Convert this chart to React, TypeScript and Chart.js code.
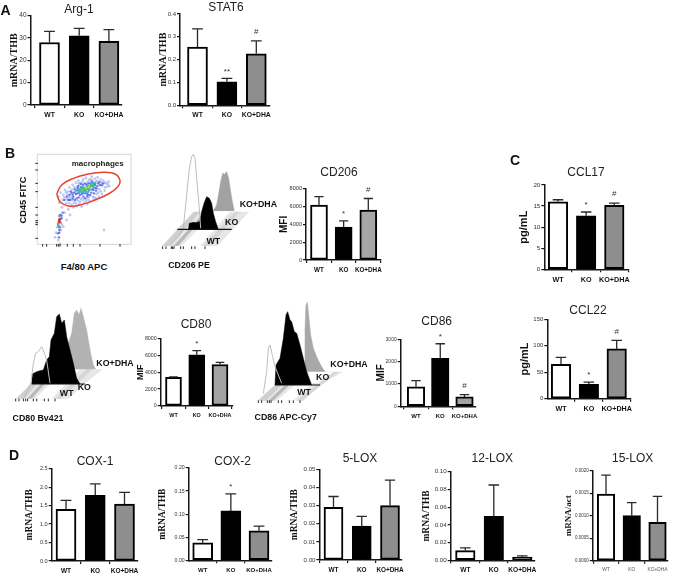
import React, { useEffect, useRef } from "react";
import { Chart, registerables } from "chart.js";

Chart.register(...registerables);

// ---------- data ----------
const groups = ["WT", "KO", "KO+DHA"];

const arg1Values = [28, 31, 28.5];
const arg1Errors = [33, 34.3, 33.8];
const arg1Marks = ["", "", ""];
const arg1Ticks = ["0", "10", "20", "30", "40"];

const stat6Values = [0.255, 0.103, 0.226];
const stat6Errors = [0.335, 0.118, 0.282];
const stat6Marks = ["", "**", "#"];
const stat6Ticks = ["0.0", "0.1", "0.2", "0.3", "0.4"];

const cd206Values = [6150, 3700, 5600];
const cd206Errors = [7100, 4400, 6900];
const cd206Marks = ["", "*", "#"];
const cd206Ticks = ["0", "2000", "4000", "6000", "8000"];

const cd80Values = [3400, 6050, 4900];
const cd80Errors = [3450, 6550, 5150];
const cd80Marks = ["", "*", ""];
const cd80Ticks = ["0", "2000", "4000", "6000", "8000"];

const cd86Values = [870, 2150, 420];
const cd86Errors = [1150, 2800, 520];
const cd86Marks = ["", "*", "#"];
const cd86Ticks = ["0", "1000", "2000", "3000"];

const ccl17Values = [16, 12.7, 15.2];
const ccl17Errors = [16.5, 13.6, 15.7];
const ccl17Marks = ["", "*", "#"];
const ccl17Ticks = ["0", "5", "10", "15", "20"];

const ccl22Values = [65, 27, 94];
const ccl22Errors = [78, 31.5, 110];
const ccl22Marks = ["", "*", "#"];
const ccl22Ticks = ["0", "50", "100", "150"];

const cox1Values = [1.4, 1.78, 1.54];
const cox1Errors = [1.64, 2.09, 1.86];
const cox1Marks = ["", "", ""];
const cox1Ticks = ["0.0", "0.5", "1.0", "1.5", "2.0", "2.5"];

const cox2Values = [0.038, 0.107, 0.064];
const cox2Errors = [0.045, 0.144, 0.074];
const cox2Marks = ["", "*", ""];
const cox2Ticks = ["0.00", "0.05", "0.10", "0.15", "0.20"];

const lox5Values = [0.029, 0.0187, 0.03];
const lox5Errors = [0.035, 0.024, 0.044];
const lox5Marks = ["", "", ""];
const lox5Ticks = ["0.00", "0.01", "0.02", "0.03", "0.04", "0.05"];

const lox12Values = [0.011, 0.0495, 0.0035];
const lox12Errors = [0.014, 0.085, 0.005];
const lox12Marks = ["", "", ""];
const lox12Ticks = ["0.00", "0.02", "0.04", "0.06", "0.08", "0.10"];

const lox15Values = [0.00148, 0.001, 0.00085];
const lox15Errors = [0.0019, 0.00129, 0.00143];
const lox15Marks = ["", "", ""];
const lox15Ticks = ["0.0000", "0.0005", "0.0010", "0.0015", "0.0020"];

// flow cytometry events
const flowSparse = [[85,140],[92,128],[98,150],[105,120],[108,160],[112,135],[118,112],[120,150],[125,165],[128,105],[132,158],[138,98],[140,168],[145,92],[148,162],[152,100],[155,170],[160,88],[163,158],[168,84],[172,162],[178,90],[182,155],[185,80],[190,150],[195,86],[198,145],[203,82],[207,140],[212,88],[216,132],[220,92],[224,122],[228,100],[232,110],[236,95],[115,178],[122,142],[135,125],[100,135],[110,148],[130,172],[150,155],[175,150],[205,128],[225,112],[88,158],[96,172],[104,188],[95,200],[82,232],[78,248],[92,240],[96,225],[75,262],[85,270],[90,282],[100,230],[110,210],[120,195],[222,240],[113,125],[126,118],[142,110],[157,95],[173,95],[188,92],[201,93],[214,97],[103,142],[117,160],[137,160],[158,150],[170,143],[188,140],[200,132],[108,128],[116,142],[123,132],[133,112],[127,150],[143,152],[147,100],[153,146],[162,104],[168,152],[176,142],[183,88],[193,142],[198,96],[208,118],[212,124],[218,104],[226,98],[233,102],[238,108]];
const flowBlue = [[110,140],[118,135],[125,128],[130,140],[135,118],[140,145],[145,108],[150,135],[155,112],[160,140],[165,100],[170,130],[175,100],[180,135],[185,95],[190,120],[195,105],[200,115],[205,100],[210,105],[120,150],[135,150],[148,125],[165,145],[178,118],[192,130],[115,150],[103,150],[90,195],[95,205],[98,188],[85,225],[88,240],[92,218],[84,250],[87,262],[128,134],[138,132],[152,102],[172,138],[184,128],[198,122],[215,106],[122,124],[132,128],[142,130],[143,114],[156,132],[158,104],[163,130],[169,104],[174,134],[181,100],[186,118],[190,100],[196,114],[202,108],[208,96],[219,100],[128,146],[146,142],[88,248],[90,232],[94,196]];
const flowTeal = [[145,120],[150,118],[155,125],[160,112],[165,118],[170,112],[175,125],[180,110],[185,108],[190,112],[195,100],[140,122],[168,125],[158,128],[92,205],[86,230],[88,198],[148,128],[153,112],[162,122],[173,106],[178,120],[188,100],[192,106],[84,222]];
const flowGreen = [[155,118],[163,115],[172,116],[178,112],[186,104],[150,122],[182,106],[167,120]];
const flowYellow = [[168,114],[176,110],[88,222],[90,204]];
const flowRed = [[88,212],[89,208],[87,216]];
const gateOutline = [[80,132],[95,105],[130,85],[175,72],[220,67],[255,72],[270,92],[262,112],[235,132],[195,150],[150,165],[115,168],[90,155],[80,132]];
const flowFrame = [[22,13],[303,13],[303,283],[22,283],[22,13]];
const flowTicksLeft = [[20,40],[20,60],[20,100],[20,125],[20,172],[20,195],[20,212],[20,218],[20,224],[20,265]];
const flowTicksBottom = [[38,286],[50,286],[80,286],[85,286],[90,286],[112,286],[130,286],[150,286],[210,286],[270,286]];

// histogram traces (channel, count position) for each overlay
const cd206Dha = [[190,198],[200,180],[207,140],[212,110],[218,85],[224,88],[230,80],[236,100],[242,140],[248,175],[253,198]];
const cd206Ko = [[115,253],[118,235],[130,232],[140,233],[150,228],[155,200],[162,175],[170,155],[178,160],[185,175],[190,205],[197,230],[205,253]];
const cd206Wt = [[65,295],[85,275],[100,250],[110,150],[118,70],[125,35],[130,28],[135,40],[140,100],[147,180],[152,250]];
const cd206Floor = [[35,303],[130,200],[298,200],[205,300],[195,303],[35,303]];
const cd206Bands = [
  [[38,303],[62,303],[150,200],[132,200],[38,303]],
  [[70,303],[85,303],[170,205],[160,205],[70,303]],
  [[95,303],[150,303],[240,200],[195,200],[95,303]],
  [[160,303],[178,303],[270,200],[255,200],[160,303]],
];
const cd206Base = [[82,253],[245,253]];
const cd206Ticks2 = [[38,308],[48,308],[64,308],[68,308],[72,308],[92,308],[100,308],[125,308],[135,308],[165,308]];

const cd80Dha = [[190,208],[190,130],[200,100],[208,40],[215,30],[222,45],[228,25],[235,50],[245,90],[250,120],[258,165],[265,195],[272,208]];
const cd80Ko = [[80,252],[82,222],[95,215],[105,212],[115,210],[125,180],[133,170],[138,120],[148,100],[155,50],[163,42],[170,70],[178,60],[185,110],[195,150],[205,190],[215,235],[225,252]];
const cd80Wt = [[60,290],[78,250],[85,190],[92,160],[100,155],[110,140],[115,150],[125,180],[135,250]];
const cd80Floor = [[30,296],[80,252],[120,208],[293,208],[238,252],[190,296],[30,296]];
const cd80Bands = [
  [[36,296],[58,296],[135,208],[115,208],[36,296]],
  [[66,296],[80,296],[155,212],[143,212],[66,296]],
  [[90,296],[140,296],[225,208],[180,208],[90,296]],
  [[150,296],[168,296],[262,208],[245,208],[150,296]],
];
const cd80Base = [[80,252],[240,252]];
const cd80Ticks2 = [[32,300],[42,300],[55,300],[62,300],[68,300],[85,300],[95,300],[118,300],[130,300],[150,300]];

const cd86Dha = [[165,230],[165,100],[168,30],[172,22],[176,60],[182,120],[190,160],[200,185],[212,210],[225,230]];
const cd86Ko = [[75,270],[78,210],[90,190],[100,130],[108,60],[113,50],[120,75],[125,80],[133,110],[140,115],[150,150],[160,190],[170,230],[185,270]];
const cd86Wt = [[40,295],[50,230],[55,160],[60,150],[68,185],[75,215],[85,240],[95,265]];
const cd86Floor = [[20,317],[75,270],[120,230],[280,230],[210,270],[160,317],[20,317]];
const cd86Bands = [
  [[25,317],[48,317],[135,230],[115,230],[25,317]],
  [[55,317],[70,317],[155,234],[143,234],[55,317]],
  [[80,317],[130,317],[225,230],[180,230],[80,317]],
  [[140,317],[155,317],[265,230],[250,230],[140,317]],
];
const cd86Base = [[75,270],[210,270]];
const cd86Ticks2 = [[25,320],[35,320],[52,320],[58,320],[63,320],[85,320],[95,320],[118,320],[130,320],[150,320]];
const cd86Clear = [[185,232],[250,232],[225,248],[205,265],[185,262],[176,248],[185,232]];

// ---------- styling ----------
const SANS = "'Liberation Sans', Arial, sans-serif";
const SERIF = "'Liberation Serif', serif";
const INK = "#161616";
const WHITE = "#ffffff";
const BLACK = "#000000";

type BarPanel = {
  title: string; titleX: number; titleY: number;
  yTitle: string; yTitleX: number; yTitleFamily: string; yTitleSize: number;
  left: number; right: number; top: number; bottom: number;
  centers: number[]; barW: number; gray: string;
  values: number[]; errors: number[]; marks: string[]; ticks: string[];
  tickSize: number; xSize: number; xBold?: boolean;
};

const barPanels: BarPanel[] = [
  { title: "Arg-1", titleX: 79, titleY: 9, yTitle: "mRNA/THB", yTitleX: 14, yTitleFamily: SERIF, yTitleSize: 10, left: 30.5, right: 122, top: 15.7, bottom: 105, centers: [49.5, 79.3, 108.9], barW: 20, gray: "#8e8e8e", values: arg1Values, errors: arg1Errors, marks: arg1Marks, ticks: arg1Ticks, tickSize: 6.5, xSize: 6.8 },
  { title: "STAT6", titleX: 226, titleY: 7, yTitle: "mRNA/THB", yTitleX: 163, yTitleFamily: SERIF, yTitleSize: 10, left: 180, right: 270, top: 14, bottom: 105.3, centers: [197.5, 227, 256.3], barW: 20, gray: "#8e8e8e", values: stat6Values, errors: stat6Errors, marks: stat6Marks, ticks: stat6Ticks, tickSize: 6, xSize: 6.8 },
  { title: "CD206", titleX: 339, titleY: 172, yTitle: "MFI", yTitleX: 284, yTitleFamily: SANS, yTitleSize: 10, left: 306, right: 380.7, top: 188.7, bottom: 260, centers: [319, 343.7, 368.3], barW: 17, gray: "#a6a6a6", values: cd206Values, errors: cd206Errors, marks: cd206Marks, ticks: cd206Ticks, tickSize: 5.6, xSize: 6.3 },
  { title: "CD80", titleX: 196, titleY: 324, yTitle: "MIF", yTitleX: 140.7, yTitleFamily: SANS, yTitleSize: 9, left: 160.7, right: 233, top: 338.3, bottom: 406, centers: [173.5, 196.7, 220], barW: 16, gray: "#a3a3a3", values: cd80Values, errors: cd80Errors, marks: cd80Marks, ticks: cd80Ticks, tickSize: 5.3, xSize: 5.4 },
  { title: "CD86", titleX: 436.7, titleY: 320.7, yTitle: "MIF", yTitleX: 380.7, yTitleFamily: SANS, yTitleSize: 10, left: 400.7, right: 476, top: 339.3, bottom: 406.3, centers: [416, 440, 464.5], barW: 17.5, gray: "#a3a3a3", values: cd86Values, errors: cd86Errors, marks: cd86Marks, ticks: cd86Ticks, tickSize: 5, xSize: 6 },
  { title: "CCL17", titleX: 586, titleY: 172, yTitle: "pg/mL", yTitleX: 524, yTitleFamily: SANS, yTitleSize: 11, left: 544.3, right: 629, top: 185, bottom: 269.3, centers: [558, 586.3, 614.3], barW: 19.5, gray: "#8e8e8e", values: ccl17Values, errors: ccl17Errors, marks: ccl17Marks, ticks: ccl17Ticks, tickSize: 6.2, xSize: 7.2 },
  { title: "CCL22", titleX: 588, titleY: 310, yTitle: "pg/mL", yTitleX: 525, yTitleFamily: SANS, yTitleSize: 11, left: 547.3, right: 631, top: 319.3, bottom: 398.7, centers: [561, 589, 616.7], barW: 19.5, gray: "#8e8e8e", values: ccl22Values, errors: ccl22Errors, marks: ccl22Marks, ticks: ccl22Ticks, tickSize: 6, xSize: 7.2 },
  { title: "COX-1", titleX: 95, titleY: 460.7, yTitle: "mRNA/THB", yTitleX: 30, yTitleFamily: SERIF, yTitleSize: 9.5, left: 51.7, right: 137.7, top: 468.7, bottom: 561, centers: [66, 95.2, 124.5], barW: 20, gray: "#8e8e8e", values: cox1Values, errors: cox1Errors, marks: cox1Marks, ticks: cox1Ticks, tickSize: 5.6, xSize: 6.5 },
  { title: "COX-2", titleX: 232.7, titleY: 460.7, yTitle: "mRNA/THB", yTitleX: 163, yTitleFamily: SERIF, yTitleSize: 9.5, left: 188.7, right: 271.7, top: 468, bottom: 560.3, centers: [202.7, 230.7, 259], barW: 20, gray: "#8e8e8e", values: cox2Values, errors: cox2Errors, marks: cox2Marks, ticks: cox2Ticks, tickSize: 5.2, xSize: 6 },
  { title: "5-LOX", titleX: 360, titleY: 458, yTitle: "mRNA/THB", yTitleX: 294.7, yTitleFamily: SERIF, yTitleSize: 9.5, left: 319.3, right: 401.7, top: 469.3, bottom: 560, centers: [333.5, 361.8, 390], barW: 19, gray: "#8e8e8e", values: lox5Values, errors: lox5Errors, marks: lox5Marks, ticks: lox5Ticks, tickSize: 6, xSize: 6.4 },
  { title: "12-LOX", titleX: 492.3, titleY: 458, yTitle: "mRNA/THB", yTitleX: 426.7, yTitleFamily: SERIF, yTitleSize: 9.5, left: 450.7, right: 535, top: 471.7, bottom: 560.3, centers: [465.3, 494, 522.3], barW: 19.5, gray: "#5a5a5a", values: lox12Values, errors: lox12Errors, marks: lox12Marks, ticks: lox12Ticks, tickSize: 6.2, xSize: 6.6 },
  { title: "15-LOX", titleX: 632.7, titleY: 458, yTitle: "mRNA/act", yTitleX: 568.3, yTitleFamily: SERIF, yTitleSize: 9, left: 592.7, right: 668, top: 470.7, bottom: 560.7, centers: [606, 631.8, 657.5], barW: 17.5, gray: "#8e8e8e", values: lox15Values, errors: lox15Errors, marks: lox15Marks, ticks: lox15Ticks, tickSize: 4.5, xSize: 4.8, xBold: false },
];

function errorPlugin(errors: number[], marks: string[], capHalf: number, titleX: number) {
  return {
    id: "errorMarks",
    afterLayout(chart: any) {
      const b = chart.titleBlock;
      if (!b) return;
      const dx = titleX - chart.canvas.offsetLeft - (b.left + b.right) / 2;
      b.left += dx;
      b.right += dx;
    },
    afterDatasetsDraw(chart: any) {
      const { ctx, scales } = chart;
      const values = chart.data.datasets[0].data;
      ctx.save();
      ctx.strokeStyle = "#2a2a2a";
      ctx.lineWidth = 1.3;
      errors.forEach((err, i) => {
        const x = scales.x.getPixelForValue(i);
        const y0 = scales.y.getPixelForValue(values[i].y);
        const y1 = scales.y.getPixelForValue(err);
        ctx.beginPath();
        ctx.moveTo(x, y0);
        ctx.lineTo(x, y1);
        ctx.moveTo(x - capHalf, y1);
        ctx.lineTo(x + capHalf, y1);
        ctx.stroke();
        if (marks[i]) {
          ctx.fillStyle = "#333";
          ctx.font = `8px ${SANS}`;
          ctx.textAlign = "center";
          ctx.textBaseline = "middle";
          ctx.fillText(marks[i], x, y1 - (marks[i] === "#" ? 9 : 7));
        }
      });
      ctx.restore();
    },
  };
}

function buildBarChart(canvas: HTMLCanvasElement, p: BarPanel, geo: any) {
  const pitch = (p.centers[2] - p.centers[0]) / 2;
  const xMin = (p.left - p.centers[0]) / pitch;
  const xMax = (p.right - p.centers[0]) / pitch;
  const tickValues = p.ticks.map(Number);
  return new Chart(canvas, {
    type: "bar",
    data: {
      datasets: [{
        data: p.values.map((v, i) => ({ x: i, y: v })),
        backgroundColor: [WHITE, BLACK, p.gray],
        borderColor: BLACK,
        borderWidth: 2,
        borderSkipped: false,
        barThickness: p.barW,
      }],
    },
    options: {
      responsive: false,
      animation: false,
      events: [],
      layout: { autoPadding: false, padding: { right: geo.padRight } },
      plugins: {
        legend: { display: false },
        tooltip: { enabled: false },
        title: {
          display: true,
          text: p.title,
          color: "#222",
          font: { family: SANS, size: 12, weight: "normal", lineHeight: 1.2 },
          padding: { top: 0, bottom: geo.titlePad },
        },
      },
      scales: {
        x: {
          type: "linear",
          offset: false,
          min: xMin,
          max: xMax,
          afterBuildTicks: (s: any) => { s.ticks = groups.map((_, i) => ({ value: i })); },
          afterFit: (s: any) => { s.height = geo.xH; },
          border: { display: true, color: INK, width: 1.5 },
          grid: { display: true, drawOnChartArea: false, drawTicks: true, tickLength: 3, color: INK, lineWidth: 1.2 },
          ticks: {
            autoSkip: false,
            maxRotation: 0,
            padding: 3,
            color: p.xBold === false ? "#555" : "#111",
            font: { family: SANS, size: p.xSize, weight: p.xBold === false ? "normal" : "bold" },
            callback: (_v: any, i: number) => groups[i],
          },
        },
        y: {
          min: 0,
          max: tickValues[tickValues.length - 1],
          afterBuildTicks: (s: any) => { s.ticks = tickValues.map((value) => ({ value })); },
          afterFit: (s: any) => { s.width = geo.yW; },
          border: { display: true, color: INK, width: 1.5 },
          grid: { display: true, drawOnChartArea: false, drawTicks: true, tickLength: 3, color: INK, lineWidth: 1.2 },
          ticks: {
            padding: 1,
            color: "#333",
            font: { family: SANS, size: p.tickSize },
            callback: (_v: any, i: number) => p.ticks[i],
          },
          title: {
            display: true,
            text: p.yTitle,
            color: "#111",
            padding: 0,
            font: { family: p.yTitleFamily, size: p.yTitleSize, weight: "bold", lineHeight: 1.2 },
          },
        },
      },
    },
    plugins: [errorPlugin(p.errors, p.marks, p.barW * 0.27, p.titleX)],
  } as any);
}

function geometry(p: BarPanel) {
  const canvasLeft = Math.round(p.yTitleX - p.yTitleSize * 0.6);
  const canvasTop = Math.round(p.titleY - 7.2);
  const right = Math.round(Math.max(p.right + 14, p.titleX + 40));
  const xH = 20;
  const height = Math.ceil(p.bottom + xH - canvasTop);
  return {
    canvasLeft,
    canvasTop,
    width: right - canvasLeft,
    height,
    yW: p.left - canvasLeft,
    xH: height + canvasTop - p.bottom,
    padRight: right - p.right,
    titlePad: p.top - canvasTop - 14.4,
  };
}

// ---------- overlays: flow plot and offset histograms ----------
type Label = { text: string; x: number; y: number; size: number; bold?: boolean; color?: string };
type Overlay = { left: number; top: number; width: number; height: number; shapes: any[]; layers: any[]; labels: Label[] };

const poly = (data: number[][], color: string) => ({ data, color });
const trace = (data: number[][], color: string) => ({ kind: "trace", data, color });
const outline = (data: number[][], color: string, w = 1, tension = 0) => ({ kind: "line", data, color, w, tension });
const dots = (data: number[][], color: string, r: number) => ({ kind: "dots", data, color, r });
const marks = (data: number[][], rotation: number, r = 2) => ({ kind: "marks", data, rotation, r });

function floorShapes(floor: number[][], bands: number[][][], clear?: number[][]) {
  return [
    poly(floor, "#e7e7e7"),
    poly(bands[0], "#cfcfcf"),
    poly(bands[1], "#b9b9b9"),
    poly(bands[2], "#ffffff"),
    poly(bands[3], "#d6d6d6"),
    ...(clear ? [poly(clear, "#ffffff")] : []),
  ];
}

function histogramLayers(dha: number[][], ko: number[][], wt: number[][], base: number[][], ticks: number[][], dhaColor: string) {
  return [
    trace(dha, dhaColor),
    trace(ko, BLACK),
    outline(wt, "#bdbdbd", 1),
    outline(base, "#111", 1.2),
    marks(ticks, 90, 1.3),
  ];
}

const overlays: Overlay[] = [
  {
    left: 30, top: 150, width: 105, height: 105,
    shapes: [],
    layers: [
      outline(flowFrame, "#dddddd", 1.2),
      dots(flowSparse, "rgba(170,180,240,0.75)", 1.4),
      dots(flowBlue, "rgba(80,100,225,0.85)", 1.2),
      dots(flowTeal, "rgba(50,165,205,0.9)", 1.3),
      dots(flowGreen, "#4cc46a", 1.4),
      dots(flowYellow, "#e8d23a", 1.1),
      dots(flowRed, "#e0301e", 1.4),
      outline(gateOutline, "#e8452c", 1.5, 0.4),
      marks(flowTicksLeft, 0, 1.3),
      marks(flowTicksBottom, 90, 1.3),
    ],
    labels: [{ text: "macrophages", x: 203, y: 40, size: 8, bold: true, color: "#222" }],
  },
  {
    left: 150, top: 145, width: 135, height: 105,
    shapes: floorShapes(cd206Floor, cd206Bands),
    layers: histogramLayers(cd206Dha, cd206Ko, cd206Wt, cd206Base, cd206Ticks2, "#a2a2a2"),
    labels: [
      { text: "KO+DHA", x: 325, y: 180, size: 8.8, bold: true },
      { text: "KO", x: 245, y: 232, size: 8.8, bold: true },
      { text: "WT", x: 190, y: 290, size: 8.8, bold: true },
    ],
  },
  {
    left: 5, top: 300, width: 135, height: 110,
    shapes: floorShapes(cd80Floor, cd80Bands),
    layers: histogramLayers(cd80Dha, cd80Ko, cd80Wt, cd80Base, cd80Ticks2, "#b2b2b2"),
    labels: [
      { text: "KO+DHA", x: 330, y: 190, size: 8.8, bold: true },
      { text: "KO", x: 238, y: 262, size: 8.8, bold: true },
      { text: "WT", x: 185, y: 282, size: 8.8, bold: true },
    ],
  },
  {
    left: 250, top: 295, width: 135, height: 115,
    shapes: floorShapes(cd86Floor, cd86Bands, cd86Clear),
    layers: histogramLayers(cd86Dha, cd86Ko, cd86Wt, cd86Base, cd86Ticks2, "#a8a8a8"),
    labels: [
      { text: "KO+DHA", x: 297, y: 208, size: 8.8, bold: true },
      { text: "KO", x: 218, y: 247, size: 8.8, bold: true },
      { text: "WT", x: 162, y: 293, size: 8.8, bold: true },
    ],
  },
];

function overlayPlugin(o: Overlay) {
  return {
    id: "overlayShapes",
    beforeDatasetsDraw(chart: any) {
      const { ctx, scales } = chart;
      ctx.save();
      o.shapes.forEach((s) => {
        ctx.fillStyle = s.color;
        ctx.beginPath();
        s.data.forEach(([x, y]: number[], i: number) => {
          const px = scales.x.getPixelForValue(x);
          const py = scales.y.getPixelForValue(y);
          if (i === 0) ctx.moveTo(px, py); else ctx.lineTo(px, py);
        });
        ctx.closePath();
        ctx.fill();
      });
      ctx.restore();
    },
    afterDatasetsDraw(chart: any) {
      const { ctx, scales } = chart;
      ctx.save();
      ctx.textAlign = "center";
      ctx.textBaseline = "middle";
      o.labels.forEach((l) => {
        ctx.fillStyle = l.color ?? "#111";
        ctx.font = `${l.bold ? "bold " : ""}${l.size}px ${SANS}`;
        ctx.fillText(l.text, scales.x.getPixelForValue(l.x), scales.y.getPixelForValue(l.y));
      });
      ctx.restore();
    },
  };
}

function buildOverlay(canvas: HTMLCanvasElement, o: Overlay) {
  const n = o.layers.length;
  const datasets = o.layers.map((l, i) => {
    const data = l.data.map(([x, y]: number[]) => ({ x, y }));
    const base: any = { data, order: n - i, clip: false };
    if (l.kind === "trace") {
      return { ...base, showLine: true, fill: { value: l.data[0][1] }, backgroundColor: l.color, borderColor: l.color, borderWidth: 0.5, pointRadius: 0, tension: 0 };
    }
    if (l.kind === "line") {
      return { ...base, showLine: true, fill: false, borderColor: l.color, borderWidth: l.w, pointRadius: 0, tension: l.tension };
    }
    if (l.kind === "dots") {
      return { ...base, showLine: false, pointRadius: l.r, pointBorderWidth: 0, pointBackgroundColor: l.color };
    }
    return { ...base, showLine: false, pointStyle: "line", rotation: l.rotation, pointRadius: l.r, pointBorderWidth: 1, pointBorderColor: "#222" };
  });
  return new Chart(canvas, {
    type: "scatter",
    data: { datasets },
    options: {
      responsive: false,
      animation: false,
      events: [],
      layout: { padding: 0, autoPadding: false },
      plugins: { legend: { display: false }, tooltip: { enabled: false } },
      scales: {
        x: { type: "linear", display: false, min: 0, max: o.width * 3 },
        y: { type: "linear", display: false, min: 0, max: o.height * 3, reverse: true },
      },
    },
    plugins: [overlayPlugin(o)],
  } as any);
}

// ---------- page text ----------
const pageText = [
  { text: "A", x: 5.5, y: 10, size: 14, bold: true },
  { text: "B", x: 10, y: 152.7, size: 14, bold: true },
  { text: "C", x: 515, y: 160, size: 14, bold: true },
  { text: "D", x: 14, y: 455, size: 14, bold: true },
  { text: "F4/80 APC", x: 84, y: 266, size: 9.5, bold: true },
  { text: "CD206 PE", x: 189, y: 265, size: 8.8, bold: true },
  { text: "CD80 Bv421", x: 38, y: 417.6, size: 8.8, bold: true },
  { text: "CD86 APC-Cy7", x: 285.7, y: 416.7, size: 8.8, bold: true },
  { text: "CD45 FITC", x: 22.6, y: 200, size: 9.3, bold: true, rotate: true },
];

function BarCanvas({ panel }: { panel: BarPanel }) {
  const ref = useRef<HTMLCanvasElement>(null);
  const geo = geometry(panel);
  useEffect(() => {
    const c = buildBarChart(ref.current!, panel, geo);
    c.update();
    return () => c.destroy();
  }, []);
  return <canvas ref={ref} width={geo.width} height={geo.height} style={{ position: "absolute", left: geo.canvasLeft, top: geo.canvasTop, width: geo.width, height: geo.height }} />;
}

function OverlayCanvas({ overlay }: { overlay: Overlay }) {
  const ref = useRef<HTMLCanvasElement>(null);
  useEffect(() => {
    const c = buildOverlay(ref.current!, overlay);
    return () => c.destroy();
  }, []);
  return <canvas ref={ref} width={overlay.width} height={overlay.height} style={{ position: "absolute", left: overlay.left, top: overlay.top, width: overlay.width, height: overlay.height }} />;
}

export default function App() {
  return (
    <div style={{ position: "absolute", left: 0, top: 0, width: 685, height: 583, overflow: "hidden", background: "#fff", filter: "blur(0.45px)" }}>
      {overlays.map((o, i) => <OverlayCanvas key={i} overlay={o} />)}
      {barPanels.map((p) => <BarCanvas key={p.title} panel={p} />)}
      {pageText.map((t) => (
        <div key={t.text} style={{
          position: "absolute", left: t.x, top: t.y, whiteSpace: "nowrap", lineHeight: 1,
          transform: `translate(-50%,-50%)${t.rotate ? " rotate(-90deg)" : ""}`,
          font: `${t.bold ? "bold " : ""}${t.size}px ${SANS}`, color: "#111",
        }}>{t.text}</div>
      ))}
    </div>
  );
}
